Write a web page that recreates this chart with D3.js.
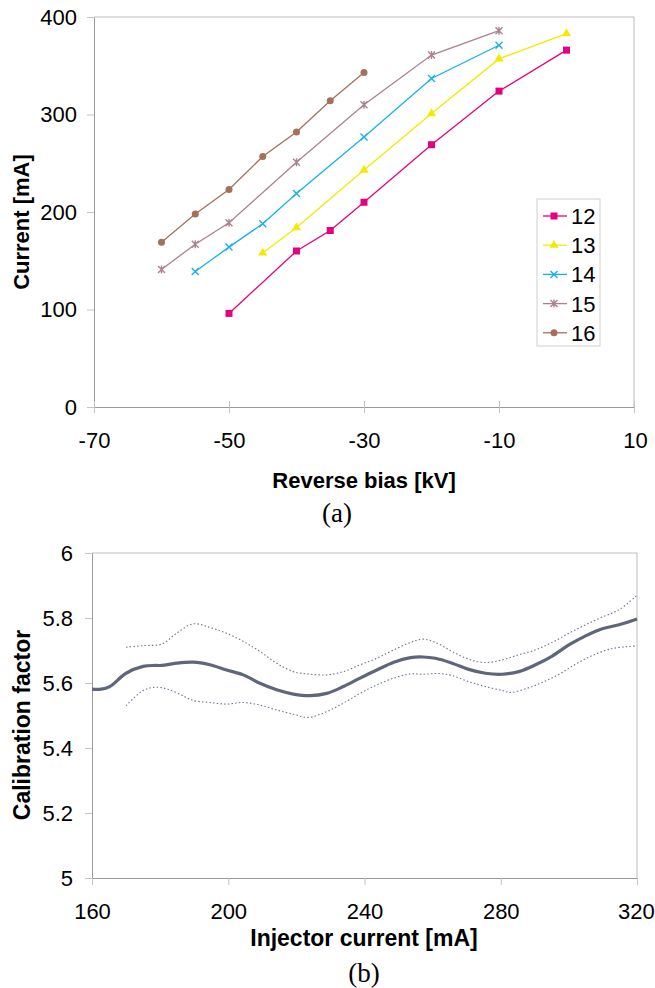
<!DOCTYPE html>
<html>
<head>
<meta charset="utf-8">
<script src="https://cdn.jsdelivr.net/npm/d3@7"></script>
<style>
  body { margin: 0; background: #fff; }
  svg { display: block; }
  .tick text { font-family: "Liberation Sans", Arial, sans-serif; fill: #000; }
  .title { font-family: "Liberation Sans", Arial, sans-serif; font-weight: bold; fill: #000; }
  .cap { font-family: "Liberation Serif", "Times New Roman", serif; fill: #000; }
</style>
</head>
<body>
<div id="chart"></div>
<script>
// ---- data: panel (a), current vs reverse bias, per series
var seriesNames = ["12", "13", "14", "15", "16"];
var seriesColors = ["#e5007d", "#f2ea00", "#16b1ea", "#ad8090", "#a3715a"];
var seriesMarkers = ["square", "triangle", "cross", "star", "circle"];

var bias12 = [-50, -40, -35, -30, -20, -10, 0];
var cur12  = [96, 160, 181, 210, 269, 324, 366];
var bias13 = [-45, -40, -30, -20, -10, 0];
var cur13  = [158, 184, 243, 301, 357, 383];
var bias14 = [-55, -50, -45, -40, -30, -20, -10];
var cur14  = [139, 164, 188, 219, 277, 337, 371];
var bias15 = [-60, -55, -50, -40, -30, -20, -10];
var cur15  = [141, 167, 189, 251, 310, 361, 386];
var bias16 = [-60, -55, -50, -45, -40, -35, -30];
var cur16  = [169, 198, 223, 257, 282, 314, 343];

var biasTicks = [-70, -50, -30, -10, 10];
var currentTicks = [0, 100, 200, 300, 400];

// ---- data: panel (b), calibration factor vs injector current
var injMain = [160, 162.7, 165.2, 170, 175, 178.6, 180.5, 184.8, 189.7, 194.6, 199.5, 204.4, 209.3, 214.2, 219.1, 224, 228.9, 233.8, 238.7, 243.6, 248.6, 253.5, 257.1, 260.8, 265.7, 270.6, 275.5, 280.4, 285.3, 290.2, 295.1, 300, 304.9, 309.8, 314.7, 320];
var calMain = [5.581, 5.581, 5.589, 5.630, 5.651, 5.654, 5.654, 5.661, 5.664, 5.656, 5.640, 5.625, 5.599, 5.579, 5.566, 5.561, 5.568, 5.589, 5.615, 5.640, 5.664, 5.678, 5.680, 5.676, 5.661, 5.642, 5.630, 5.627, 5.635, 5.656, 5.683, 5.717, 5.745, 5.767, 5.779, 5.797];

var injUpper = [170, 175, 180.5, 184.8, 189.7, 194.6, 199.5, 204.4, 209.3, 214.2, 219.1, 224, 228.9, 233.8, 238.7, 243.6, 248.6, 253.5, 257.1, 260.8, 265.7, 270.6, 275.5, 280.4, 285.3, 290.2, 295.1, 300, 304.9, 309.8, 314.7, 320];
var calUpper = [5.710, 5.715, 5.720, 5.753, 5.782, 5.771, 5.753, 5.728, 5.697, 5.661, 5.635, 5.627, 5.625, 5.635, 5.656, 5.676, 5.702, 5.725, 5.735, 5.725, 5.697, 5.673, 5.663, 5.671, 5.687, 5.702, 5.725, 5.753, 5.779, 5.803, 5.825, 5.870];

var injLower = [170, 175, 178.6, 182.3, 187.2, 189.7, 194.6, 199.5, 204.4, 209.3, 214.2, 219.1, 223.4, 228.9, 233.8, 238.7, 243.6, 248.6, 253.5, 257.1, 262, 265.7, 270.6, 275.5, 280.4, 282.9, 287.8, 292.7, 297.6, 302.5, 307.4, 312.3, 317.2, 320];
var calLower = [5.530, 5.577, 5.587, 5.581, 5.558, 5.546, 5.540, 5.535, 5.540, 5.532, 5.517, 5.504, 5.494, 5.512, 5.538, 5.568, 5.594, 5.615, 5.628, 5.627, 5.629, 5.623, 5.604, 5.589, 5.577, 5.571, 5.584, 5.604, 5.630, 5.661, 5.687, 5.705, 5.712, 5.714];

var injTicks = [160, 200, 240, 280, 320];
var calTicks = [5, 5.2, 5.4, 5.6, 5.8, 6];

var biasAll = [bias12, bias13, bias14, bias15, bias16];
var curAll = [cur12, cur13, cur14, cur15, cur16];

var W = 655, H = 988;
var axisColor = "#9a9a9a", borderColor = "#bdbdbd";

var svg = d3.select("#chart").append("svg")
    .attr("width", W)
    .attr("height", H);

// plain hyphen minus, as in the original
var plain = function(d){ return String(+d.toFixed(1)); };

// ================= panel (a) =================
var a = { left: 94, right: 634, top: 17, bottom: 407 };
var xA = d3.scaleLinear().domain([-70, 10]).range([a.left, a.right]);
var yA = d3.scaleLinear().domain([0, 400]).range([a.bottom, a.top]);

var gA = svg.append("g");

// plot border top/right
gA.append("path")
    .attr("d", "M" + a.left + "," + a.top + "H" + a.right + "V" + a.bottom)
    .attr("fill", "none").attr("stroke", borderColor);

var axYA = gA.append("g")
    .attr("transform", "translate(" + a.left + ",0)")
    .call(d3.axisLeft(yA).tickValues(currentTicks).tickSize(7).tickSizeOuter(0).tickPadding(10).tickFormat(plain));
var axXA = gA.append("g")
    .attr("transform", "translate(0," + a.bottom + ")")
    .call(d3.axisBottom(xA).tickValues(biasTicks).tickSize(6).tickSizeOuter(0).tickPadding(19).tickFormat(plain));
// x ticks cross the axis
axXA.selectAll(".tick line").attr("y1", -6);

[axYA, axXA].forEach(function(ax){
    ax.select(".domain").attr("stroke", axisColor);
    ax.selectAll(".tick line").attr("stroke", "#c4c4c4");
    ax.selectAll(".tick text").style("font-size", "22px");
});
// keep the last label inside the page
axXA.selectAll(".tick text").filter(function(d){ return d === 10; }).attr("text-anchor", "end").attr("dx", "0.6em");

function marker(g, type, color, size){
    var s = size;
    if (type === "square") {
        g.append("rect").attr("x", -s/2).attr("y", -s/2).attr("width", s).attr("height", s).attr("fill", color);
    } else if (type === "triangle") {
        g.append("path").attr("d", d3.symbol(d3.symbolTriangle, s*s*0.75)()).attr("fill", color);
    } else if (type === "cross") {
        var h = s/2;
        g.append("path").attr("d", "M" + (-h) + "," + (-h) + "L" + h + "," + h + "M" + (-h) + "," + h + "L" + h + "," + (-h))
            .attr("stroke", color).attr("stroke-width", 1.4).attr("fill", "none");
    } else if (type === "star") {
        var h2 = s/2;
        g.append("path").attr("d", "M" + (-h2) + "," + (-h2) + "L" + h2 + "," + h2 + "M" + (-h2) + "," + h2 + "L" + h2 + "," + (-h2) + "M0," + (-h2-0.5) + "V" + (h2+0.5))
            .attr("stroke", color).attr("stroke-width", 1.4).attr("fill", "none");
    } else {
        g.append("circle").attr("r", s/2).attr("fill", color);
    }
}

var lineA = d3.line()
    .x(function(d){ return xA(d[0]); })
    .y(function(d){ return yA(d[1]); });

seriesNames.forEach(function(name, i){
    var pts = biasAll[i].map(function(b, j){ return [b, curAll[i][j]]; });
    var g = gA.append("g").attr("class", "series-" + name);
    g.append("path")
        .datum(pts)
        .attr("d", lineA)
        .attr("fill", "none")
        .attr("stroke", seriesColors[i])
        .attr("stroke-width", 1.3);
    g.selectAll(".pt")
        .data(pts)
        .enter().append("g")
        .attr("class", "pt")
        .attr("transform", function(d){ return "translate(" + xA(d[0]) + "," + yA(d[1]) + ")"; })
        .each(function(){ marker(d3.select(this), seriesMarkers[i], seriesColors[i], 7); });
});

// legend
var leg = gA.append("g").attr("transform", "translate(537,199)");
leg.append("rect").attr("width", 63).attr("height", 147)
    .attr("fill", "#fff").attr("stroke", "#d0d0d0");
seriesNames.forEach(function(name, i){
    var row = leg.append("g").attr("transform", "translate(0," + (17 + i * 29.2) + ")");
    row.append("line").attr("x1", 6).attr("x2", 30).attr("stroke", seriesColors[i]).attr("stroke-width", 1.3);
    var m = row.append("g").attr("transform", "translate(17,0)");
    marker(m, seriesMarkers[i], seriesColors[i], 7);
    row.append("text").attr("x", 34).attr("dy", "0.36em")
        .style("font-family", "Liberation Sans, Arial, sans-serif")
        .style("font-size", "22px").text(name);
});

gA.append("text").attr("class", "title")
    .attr("transform", "translate(29,222) rotate(-90)")
    .attr("text-anchor", "middle")
    .style("font-size", "22px")
    .text("Current [mA]");
gA.append("text").attr("class", "title")
    .attr("x", 364).attr("y", 488)
    .attr("text-anchor", "middle")
    .style("font-size", "22px")
    .text("Reverse bias [kV]");
gA.append("text").attr("class", "cap")
    .attr("x", 337).attr("y", 522)
    .attr("text-anchor", "middle")
    .style("font-size", "27px")
    .text("(a)");

// ================= panel (b) =================
var b = { left: 92, right: 637, top: 553, bottom: 878 };
var xB = d3.scaleLinear().domain([160, 320]).range([b.left, b.right]);
var yB = d3.scaleLinear().domain([5, 6]).range([b.bottom, b.top]);

var gB = svg.append("g");
gB.append("path")
    .attr("d", "M" + b.left + "," + b.top + "H" + b.right + "V" + b.bottom)
    .attr("fill", "none").attr("stroke", borderColor);

var axYB = gB.append("g")
    .attr("transform", "translate(" + b.left + ",0)")
    .call(d3.axisLeft(yB).tickValues(calTicks).tickSize(7).tickSizeOuter(0).tickPadding(12).tickFormat(plain));
var axXB = gB.append("g")
    .attr("transform", "translate(0," + b.bottom + ")")
    .call(d3.axisBottom(xB).tickValues(injTicks).tickSize(7).tickSizeOuter(0).tickPadding(18).tickFormat(plain));

[axYB, axXB].forEach(function(ax){
    ax.select(".domain").attr("stroke", axisColor);
    ax.selectAll(".tick line").attr("stroke", "#c4c4c4");
    ax.selectAll(".tick text").style("font-size", "22px");
});
axXB.selectAll(".tick text").filter(function(d){ return d === 320; }).attr("text-anchor", "end").attr("dx", "0.78em");

var lineB = d3.line()
    .x(function(d){ return xB(d[0]); })
    .y(function(d){ return yB(d[1]); })
    .curve(d3.curveCatmullRom);

function zip(xs, ys){ return xs.map(function(x, i){ return [x, ys[i]]; }); }

gB.append("path").datum(zip(injUpper, calUpper))
    .attr("d", lineB).attr("fill", "none")
    .attr("stroke", "#6e7490").attr("stroke-width", 1.1)
    .attr("stroke-dasharray", "1.5,2.2");
gB.append("path").datum(zip(injLower, calLower))
    .attr("d", lineB).attr("fill", "none")
    .attr("stroke", "#6e7490").attr("stroke-width", 1.1)
    .attr("stroke-dasharray", "1.5,2.2");
gB.append("path").datum(zip(injMain, calMain))
    .attr("d", lineB).attr("fill", "none")
    .attr("stroke", "#5f6679").attr("stroke-width", 3.2);

gB.append("text").attr("class", "title")
    .attr("transform", "translate(30,725) rotate(-90)")
    .attr("text-anchor", "middle")
    .style("font-size", "23px")
    .text("Calibration factor");
gB.append("text").attr("class", "title")
    .attr("x", 364).attr("y", 946)
    .attr("text-anchor", "middle")
    .style("font-size", "23px")
    .text("Injector current [mA]");
gB.append("text").attr("class", "cap")
    .attr("x", 364).attr("y", 982)
    .attr("text-anchor", "middle")
    .style("font-size", "27px")
    .text("(b)");
</script>
</body>
</html>
